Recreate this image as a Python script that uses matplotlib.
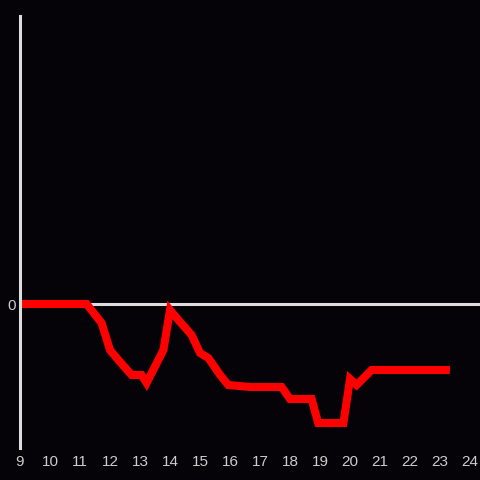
import matplotlib
matplotlib.use("Agg")
import matplotlib.pyplot as plt

# values (y in arbitrary units, 0 = baseline)
hours = [9.0, 11.1, 11.22, 11.72, 12.0, 12.28, 12.72, 13.05, 13.22, 13.78,
         14.0, 14.28, 14.72, 15.0, 15.28, 15.67, 15.94, 16.67, 17.72, 18.0,
         18.72, 18.94, 19.78, 20.0, 20.22, 20.72, 23.33]
values = [0, 0, 0, -19, -46, -56, -71, -71, -79, -46,
          -6, -16, -31, -49, -54, -71, -81, -83, -83, -95,
          -95, -119, -119, -75, -81, -66, -66]
xticks = list(range(9, 25))

bg = "#050307"
fig = plt.figure(figsize=(4.8, 4.8), dpi=100, facecolor=bg)
ax = fig.add_axes([20 / 480, 32 / 480, 460 / 480, 432 / 480], facecolor=bg)

ax.axhline(0, color="#dddddd", linewidth=2.2, zorder=1)
ax.plot(hours, values, color="#ff0000", linewidth=5.8,
        solid_joinstyle="miter", solid_capstyle="butt", zorder=2)

ax.set_xlim(9, 24.333)
ax.set_ylim(-144, 288)

for side in ["top", "right", "bottom"]:
    ax.spines[side].set_visible(False)
ax.spines["left"].set_color("#dddddd")
ax.spines["left"].set_linewidth(2.2)

ax.set_xticks(xticks)
ax.set_xticklabels([str(t) for t in xticks])
ax.set_yticks([0])
ax.set_yticklabels(["0"])
ax.tick_params(axis="both", length=0, colors="#cccccc", labelsize=11,
               labelfontfamily="Liberation Sans")
ax.tick_params(axis="x", pad=5)
ax.tick_params(axis="y", pad=3)

fig.savefig("out.png", dpi=100, facecolor=bg)
